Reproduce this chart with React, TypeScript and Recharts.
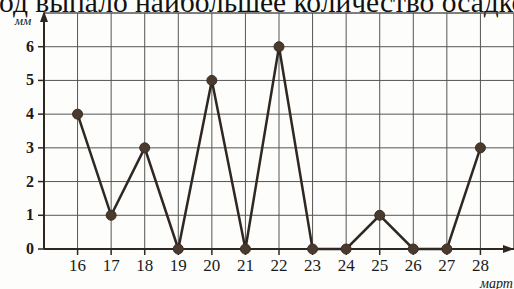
import { LineChart, Line, XAxis, YAxis, CartesianGrid, ReferenceLine } from 'recharts'

// март, day of month
const days = [16, 17, 18, 19, 20, 21, 22, 23, 24, 25, 26, 27, 28]
// осадки, мм
const rain = [4, 1, 3, 0, 5, 0, 6, 0, 0, 1, 0, 0, 3]
const yTicks = [0, 1, 2, 3, 4, 5, 6]

const data = days.map((d, i) => ({ day: d, mm: rain[i] }))

const ink = '#2f2722'
const grid = '#555'
const serif = "'Liberation Serif', 'Times New Roman', serif"
const txt = { fontFamily: serif }

function DayTick({ x, y, payload }: any) {
  return (
    <text x={x} y={y + 12} textAnchor="middle" fontSize={17} style={txt} fill="#1a1a1a">
      {payload.value}
    </text>
  )
}

function MmTick({ x, y, payload }: any) {
  return (
    <text x={x - 1} y={y + 5} textAnchor="end" fontSize={16} fontWeight="bold" style={txt} fill="#1a1a1a">
      {payload.value}
    </text>
  )
}

export default function App() {
  return (
    <div style={{ position: 'absolute', left: 0, top: 0, width: 514, height: 289, overflow: 'hidden', background: '#fdfdfb', fontFamily: serif }}>
      {/* cut-off question text above the chart */}
      <div style={{ position: 'absolute', left: -1, top: -15, fontSize: 29.5, lineHeight: '34px', whiteSpace: 'nowrap', color: '#111' }}>
        од выпало наибольшее количество осадков
      </div>

      <LineChart width={514} height={289} data={data} margin={{ top: 13, right: 0, bottom: 0, left: 0 }}
        style={{ fontFamily: serif }}>
        <CartesianGrid stroke={grid} strokeWidth={1} />
        <XAxis dataKey="day" type="number" domain={[15, 29]} ticks={days} allowDataOverflow
          height={40} tickSize={6} tickMargin={4}
          axisLine={{ stroke: ink, strokeWidth: 2 }} tickLine={{ stroke: ink, strokeWidth: 1.5 }}
          tick={<DayTick />} />
        <YAxis domain={[0, 7]} ticks={yTicks} width={44} tickSize={6} tickMargin={3}
          axisLine={{ stroke: ink, strokeWidth: 2 }} tickLine={{ stroke: ink, strokeWidth: 1.5 }}
          tick={<MmTick />} />
        <ReferenceLine x={29} stroke={grid} strokeWidth={1} ifOverflow="extendDomain" />
        <ReferenceLine y={7} stroke={grid} strokeWidth={1} />
        <Line dataKey="mm" type="linear" stroke={ink} strokeWidth={2.5}
          dot={{ r: 5, fill: '#4a3a2e', stroke: '#3a2d24', strokeWidth: 1 }}
          isAnimationActive={false} />
      </LineChart>

      {/* axis arrows and unit labels */}
      <svg width={514} height={289} style={{ position: 'absolute', left: 0, top: 0, pointerEvents: 'none' }}>
        <polygon points="44,11 40,22 48,22" fill={ink} />
        <polygon points="514,249 503,245 503,253" fill={ink} />
        <text x={23} y={25} fontSize={13} fontStyle="italic" style={txt} fill="#1a1a1a" textAnchor="middle">мм</text>
        <text x={480} y={288} fontSize={14} fontStyle="italic" style={txt} fill="#1a1a1a">март</text>
      </svg>
    </div>
  )
}
